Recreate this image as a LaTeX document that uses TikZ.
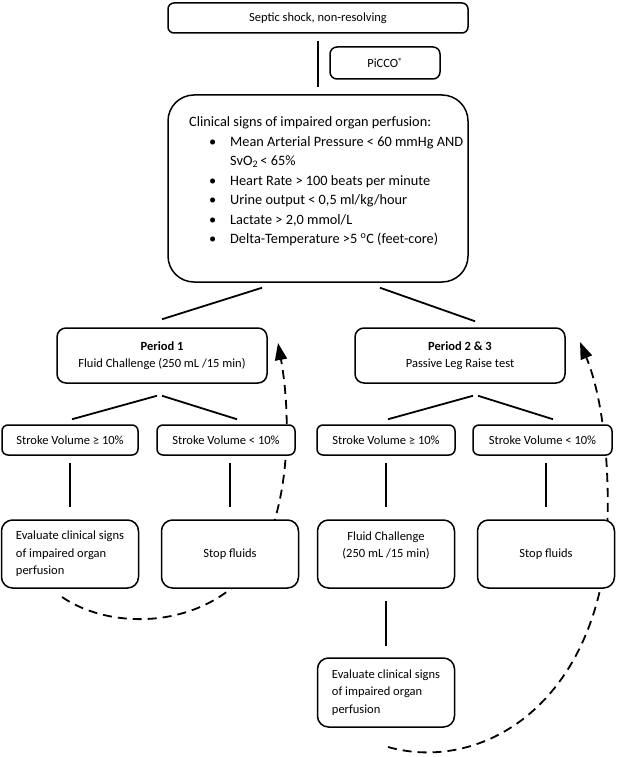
\documentclass[tikz,border=0pt]{standalone}
\usepackage{fontspec}
\setmainfont{Carlito}
\usepackage{tikz}
\usetikzlibrary{arrows.meta}
\tikzstyle{flatbox}=[draw=black,fill=white,line width=1.5pt,
                     rounded corners=6pt,inner sep=0pt,align=center]
\tikzstyle{svbox}=[flatbox,minimum height=30pt]
\tikzstyle{softbox}=[flatbox,rounded corners=11pt,align=left,
                     minimum width=137pt,minimum height=68pt]
\tikzstyle{link}=[line width=1.8pt]
\tikzstyle{loopback}=[line width=1.8pt,dash pattern=on 9pt off 6pt,
                      -{Triangle[length=17pt,width=12pt]}]

\begin{document}
\begin{tikzpicture}[x=1pt,y=-1pt,font=\fontsize{12.5}{17.5}\selectfont]
    \useasboundingbox (0,0) rectangle (617,757);
    \coordinate (l0) at (62,597);
    \coordinate (l1) at (250,570);
    \coordinate (l2) at (278,343);
    \coordinate (r0) at (388,747);
    \coordinate (r1) at (600,590);
    \coordinate (r2) at (580,342);
    \draw[loopback] (l0) .. controls (110,630) and (200,630) .. (l1)
                         .. controls (290,520) and (292,420) .. (l2);
    \draw[loopback] (r0) .. controls (470,770) and (570,720) .. (r1)
                         .. controls (612,540) and (612,420) .. (r2);
    \node (shock) at (318,18) [flatbox,minimum width=300pt,minimum height=30pt]
          {Septic shock, non-resolving};
    \node (picco) at (385,63) [flatbox,minimum width=110pt,minimum height=32pt,
          rounded corners=7pt] {PiCCO\raisebox{3pt}{\fontsize{9}{9}\selectfont\textregistered}};
    \node (signs) at (318,188.5) [flatbox,minimum width=300pt,minimum height=187pt,
          rounded corners=26pt] {};
    \node (list) at (189,116.5) [anchor=north west,inner sep=0pt,align=left,
          font=\fontsize{14.3}{19.5}\selectfont]
          {Clinical signs of impaired organ perfusion:\\
           \hspace*{20pt}\makebox[21pt][l]{\textbullet}Mean Arterial Pressure < 60 mmHg AND\\
           \hspace*{41pt}SvO\textsubscript{2}\,< 65\%\\
           \hspace*{20pt}\makebox[21pt][l]{\textbullet}Heart Rate > 100 beats per minute\\
           \hspace*{20pt}\makebox[21pt][l]{\textbullet}Urine output < 0,5 ml/kg/hour\\
           \hspace*{20pt}\makebox[21pt][l]{\textbullet}Lactate > 2,0 mmol/L\\
           \hspace*{20pt}\makebox[21pt][l]{\textbullet}Delta-Temperature >5 \textsuperscript{o}C (feet-core)};
    \node (p1) at (162,355.5) [flatbox,minimum width=210pt,minimum height=55pt,
          rounded corners=9pt] {\textbf{Period 1}\\Fluid Challenge (250 mL /15 min)};
    \node (p2) at (460,355.5) [flatbox,minimum width=210pt,minimum height=55pt,
          rounded corners=9pt] {\textbf{Period 2 \& 3}\\Passive Leg Raise test};
    \node (sv1) at (70,440) [svbox,minimum width=136pt] {Stroke Volume ≥ 10\%};
    \node (sv2) at (226,440) [svbox,minimum width=138pt] {Stroke Volume < 10\%};
    \node (sv3) at (386,440) [svbox,minimum width=138pt] {Stroke Volume ≥ 10\%};
    \node (sv4) at (542.5,440) [svbox,minimum width=139pt] {Stroke Volume < 10\%};
    \node (ev1) at (70,554) [softbox] {Evaluate clinical signs\\of impaired organ\\perfusion};
    \node (sf1) at (230,554) [softbox] {Stop fluids};
    \node (fc) at (386,554) [softbox] {};
    \node (fctext) at ([yshift=8.5pt]fc.center) [inner sep=0pt,align=center]
          {Fluid Challenge\\(250 mL /15 min)};
    \node (sf2) at (546,554) [softbox] {Stop fluids};
    \node (ev2) at (386,692.5) [softbox,minimum height=69pt]
          {Evaluate clinical signs\\of impaired organ\\perfusion};
    \draw[link] ([yshift=-7pt]shock.south) -- ([yshift=7pt]signs.north);
    \draw[link] ([xshift=-56pt,yshift=-5pt]signs.south) -- ([yshift=8pt]p1.north);
    \draw[link] ([xshift=62pt,yshift=-5pt]signs.south) -- ([xshift=15pt,yshift=6pt]p2.north);
    \draw[link] ([xshift=-5pt,yshift=-12pt]p1.south) -- ([xshift=2pt,yshift=5pt]sv1.north);
    \draw[link] ([yshift=-12pt]p1.south) -- ([xshift=11pt,yshift=5pt]sv2.north);
    \draw[link] ([xshift=13pt,yshift=-12pt]p2.south) -- ([xshift=2pt,yshift=5pt]sv3.north);
    \draw[link] ([xshift=18pt,yshift=-12pt]p2.south) -- ([xshift=10.5pt,yshift=5pt]sv4.north);
    \draw[link] ([yshift=-7pt]sv1.south) -- ([yshift=12pt]ev1.north);
    \draw[link] ([yshift=-7pt]sf1.north |- sv2.south) -- ([yshift=12pt]sf1.north);
    \draw[link] ([yshift=-7pt]sv3.south) -- ([yshift=12pt]fc.north);
    \draw[link] ([yshift=-7pt]sf2.north |- sv4.south) -- ([yshift=12pt]sf2.north);
    \draw[link] ([yshift=-12pt]fc.south) -- ([yshift=11pt]ev2.north);
\end{tikzpicture}
\end{document}
